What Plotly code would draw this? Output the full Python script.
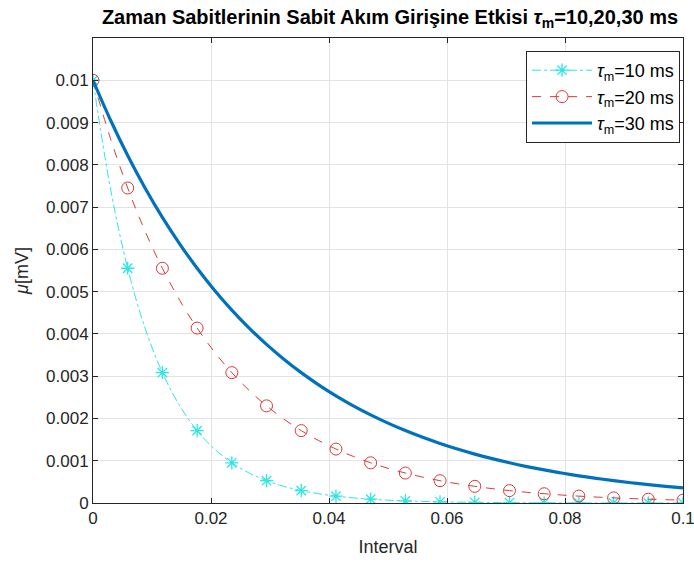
import plotly.graph_objects as go

# Interval grid (s)
interval = [0.0, 0.00294, 0.00588, 0.00882, 0.01176, 0.01471, 0.01765, 0.02059, 0.02353,
            0.02647, 0.02941, 0.03235, 0.03529, 0.03824, 0.04118, 0.04412, 0.04706,
            0.05, 0.05294, 0.05588, 0.05882, 0.06176, 0.06471, 0.06765, 0.07059,
            0.07353, 0.07647, 0.07941, 0.08235, 0.08529, 0.08824, 0.09118, 0.09412,
            0.09706, 0.1]

mu_tau10 = [0.01, 0.007452, 0.005553, 0.004138, 0.003084, 0.002298, 0.001712, 0.001276,
            0.000951, 0.000709, 0.000528, 0.000394, 0.000293, 0.000219, 0.000163,
            0.000121, 0.000090, 0.000067, 0.000050, 0.000037, 0.000028, 0.000021,
            0.000016, 0.000012, 0.000009, 0.000006, 0.000005, 0.000004, 0.000003,
            0.000002, 0.000002, 0.000001, 0.000001, 0.000001, 0.0000005]

mu_tau20 = [0.01, 0.008632, 0.007452, 0.006433, 0.005553, 0.004793, 0.004138, 0.003572,
            0.003084, 0.002662, 0.002298, 0.001984, 0.001712, 0.001478, 0.001276,
            0.001102, 0.000951, 0.000821, 0.000709, 0.000612, 0.000528, 0.000456,
            0.000394, 0.000340, 0.000293, 0.000253, 0.000219, 0.000189, 0.000163,
            0.000141, 0.000121, 0.000105, 0.000090, 0.000078, 0.000067]

mu_tau30 = [0.01, 0.009066, 0.008220, 0.007452, 0.006756, 0.006126, 0.005553, 0.005035,
            0.004564, 0.004138, 0.003752, 0.003402, 0.003084, 0.002796, 0.002535,
            0.002298, 0.002084, 0.001889, 0.001713, 0.001553, 0.001408, 0.001276,
            0.001157, 0.001049, 0.000951, 0.000862, 0.000782, 0.000709, 0.000643,
            0.000583, 0.000528, 0.000479, 0.000434, 0.000394, 0.000357]

marker_idx = list(range(0, 35, 2))

x_ticks = [0, 0.02, 0.04, 0.06, 0.08, 0.1]
x_tick_labels = ["0", "0.02", "0.04", "0.06", "0.08", "0.1"]
y_ticks = [0, 0.001, 0.002, 0.003, 0.004, 0.005, 0.006, 0.007, 0.008, 0.009, 0.01]
y_tick_labels = ["0", "0.001", "0.002", "0.003", "0.004", "0.005", "0.006", "0.007",
                 "0.008", "0.009", "0.01"]

FONT = "Liberation Sans, Arial, sans-serif"
CYAN = "#2ee6e6"
RED = "#d93a3a"
BLUE = "#0072BD"

fig = go.Figure()
fig.add_trace(go.Scatter(
    x=interval, y=mu_tau10, mode="lines+markers", name="<i>τ</i><sub>m</sub>=10 ms",
    line=dict(color=CYAN, width=1, dash="dashdot", shape="spline"),
    marker=dict(symbol="asterisk-open", size=11, color=CYAN, line=dict(color=CYAN, width=1.3)),
    selectedpoints=marker_idx, unselected=dict(marker=dict(opacity=0)),
))
fig.add_trace(go.Scatter(
    x=interval, y=mu_tau20, mode="lines+markers", name="<i>τ</i><sub>m</sub>=20 ms",
    line=dict(color=RED, width=1, dash="dash", shape="spline"),
    marker=dict(symbol="circle-open", size=12, color=RED, line=dict(color=RED, width=1)),
    selectedpoints=marker_idx, unselected=dict(marker=dict(opacity=0)),
))
fig.add_trace(go.Scatter(
    x=interval, y=mu_tau30, mode="lines", name="<i>τ</i><sub>m</sub>=30 ms",
    line=dict(color=BLUE, width=3.2, shape="spline"),
))

axis_common = dict(
    showgrid=True, gridcolor="#e3e3e3", gridwidth=1,
    showline=True, linecolor="#262626", linewidth=1, mirror="allticks",
    ticks="inside", ticklen=5, tickcolor="#262626",
    tickfont=dict(family=FONT, size=17, color="#262626"),
    ticklabeloverflow="allow", automargin=False,
    zeroline=False,
)

fig.update_layout(
    width=694, height=565,
    margin=dict(l=93, r=11, t=38, b=62),
    paper_bgcolor="white", plot_bgcolor="white",
    font=dict(family=FONT, color="#262626"),
    title=dict(
        text="<b>Zaman Sabitlerinin Sabit Akım Girişine Etkisi <i>τ</i><sub>m</sub>=10,20,30 ms</b>",
        x=0.562, xanchor="center", y=0.97, yanchor="middle",
        font=dict(family=FONT, size=20, color="black"),
    ),
    xaxis=dict(axis_common, range=[0, 0.1], tickvals=x_ticks, ticktext=x_tick_labels,
               title=dict(text="Interval", font=dict(family=FONT, size=18, color="#262626"), standoff=12)),
    yaxis=dict(axis_common, range=[0, 0.011], tickvals=y_ticks, ticktext=y_tick_labels,
               title=dict(text="<i>μ</i>[mV]", font=dict(family=FONT, size=18, color="#262626"), standoff=12)),
    legend=dict(
        x=0.995, y=0.972, xanchor="right", yanchor="top",
        bgcolor="white", bordercolor="#262626", borderwidth=1,
        font=dict(family=FONT, size=18, color="black"),
        tracegroupgap=0, itemwidth=60,
    ),
    showlegend=True,
)

fig.write_html("out.html")
